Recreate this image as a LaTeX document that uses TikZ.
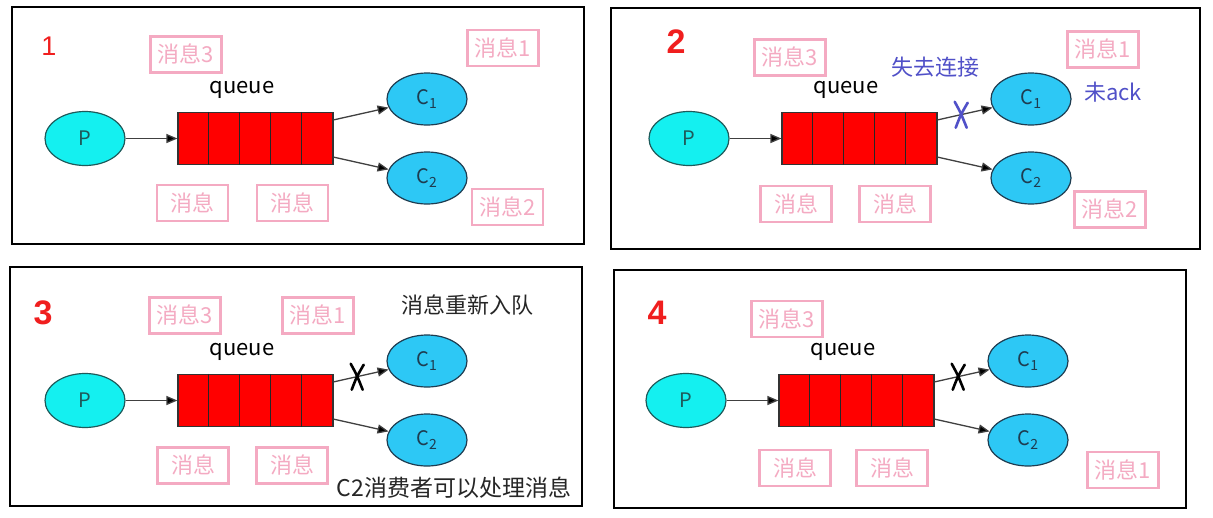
\documentclass[tikz,border=0pt]{standalone}
\usepackage{fontspec}
\setmainfont{Noto Sans CJK SC}
\newfontfamily\numfont{Liberation Sans}
\usetikzlibrary{shapes.geometric,arrows.meta,calc}
\definecolor{pinkc}{RGB}{244,170,194}
\definecolor{pfill}{RGB}{20,240,240}
\definecolor{pborder}{RGB}{30,90,90}
\definecolor{cfill}{RGB}{45,200,245}
\definecolor{cborder}{RGB}{30,60,80}
\definecolor{qred}{RGB}{255,0,0}
\definecolor{bluet}{RGB}{80,80,200}
\definecolor{numred}{RGB}{240,30,30}
\tikzset{
 frame/.style={draw=black, line width=2.8pt},
 pnode/.style={ellipse, draw=pborder, fill=pfill, line width=1.2pt, minimum width=80pt, minimum height=54pt, inner sep=0pt, font=\fontsize{20}{20}\selectfont, text=pborder},
 cnode/.style={ellipse, draw=cborder, fill=cfill, line width=1.2pt, minimum width=80pt, minimum height=52pt, inner sep=0pt, font=\fontsize{20}{20}\selectfont, text=cborder},
 qbox/.style={rectangle, draw=black!80, fill=qred, line width=1.2pt, minimum width=155pt, minimum height=52pt, inner sep=0pt},
 cellline/.style={draw=black!85, line width=1.2pt},
 arr/.style={draw=black!75, line width=1.3pt, -{Triangle[length=11pt,width=9pt,fill=black]}},
 qlabel/.style={font=\fontsize{22}{22}\selectfont, text=black},
 pinkbox/.style={draw=pinkc, line width=2.5pt, text=pinkc, minimum width=71pt, minimum height=36pt, inner sep=0pt, font=\fontsize{22}{22}\selectfont},
 numlabel/.style={text=numred, font=\numfont\bfseries\fontsize{34}{34}\selectfont},
 note/.style={font=\fontsize{22}{22}\selectfont},
 xmark/.style={line width=2.6pt, line cap=round},
}
\newcommand\qpanel[3]{%
 \begin{scope}[shift={(#2,#3)}]
  \node[pnode] (#1P) at (85,138.5) {P};
  \node[qbox] (#1Q) at (255.5,138.5) {};
  \foreach \i in {1,...,4}
   \draw[cellline] ($(#1Q.north west)+(31*\i,0)$) -- ($(#1Q.south west)+(31*\i,0)$);
  \node[cnode] (#1C1) at (427,99) {C\textsubscript{1}};
  \node[cnode] (#1C2) at (427,178) {C\textsubscript{2}};
  \node[qlabel] (#1ql) at (242,90) {queue};
  \coordinate (#1a) at ($(#1Q.north east)+(0,8)$);
  \coordinate (#1b) at ($(#1Q.south east)+(0,-8)$);
  \draw[arr] (#1P) -- (#1Q);
  \draw[arr] (#1a) -- coordinate[pos=0.42] (#1X) (#1C1);
  \draw[arr] (#1b) -- (#1C2);
 \end{scope}}
\newcommand\xcross[2]{%
 \draw[xmark,#2] ($(#1)+(-6,-13)$) .. controls ($(#1)+(0,-2)$) .. ($(#1)+(6,13)$);
 \draw[xmark,#2] ($(#1)+(7,-12)$) .. controls ($(#1)+(0,0)$) .. ($(#1)+(-5,13)$);}
\begin{document}
\begin{tikzpicture}[x=1pt,y=-1pt]
\useasboundingbox[fill=white] (0,0) rectangle (1213,517);
% frames
\draw[frame] (12,7) rectangle (584,244);
\draw[frame] (611,8) rectangle (1200,249);
\draw[frame] (10,267) rectangle (582,506);
\draw[frame] (614,270) rectangle (1186,508);
% panel 1
\qpanel{a}{0}{0}
\node[numlabel, font=\numfont\fontsize{27}{27}\selectfont] (n1) at (49,46) {1};
\node[pinkbox] (a3) at (186,54.5) {消息3};
\node[pinkbox] (a1) at (503,48) {消息1};
\node[pinkbox] (am1) at (192.5,203) {消息};
\node[pinkbox] (am2) at (292.5,203) {消息};
\node[pinkbox] (a2) at (507.5,207) {消息2};
% panel 2
\qpanel{b}{604}{0}
\node[numlabel] (n2) at (676,42) {2};
\node[pinkbox] (b3) at (790,57.5) {消息3};
\node[pinkbox] (b1) at (1103,49.5) {消息1};
\node[pinkbox] (bm1) at (796,204) {消息};
\node[pinkbox] (bm2) at (895,204) {消息};
\node[pinkbox] (b2) at (1110,209.5) {消息2};
\node[note, text=bluet] (lost) at (935,67) {失去连接};
\node[note, text=bluet] (noack) at (1113,92) {未ack};
\xcross{bX}{bluet}
% panel 3
\qpanel{c}{0}{262}
\node[numlabel] (n3) at (43,313) {3};
\node[pinkbox] (c3) at (185,315.5) {消息3};
\node[pinkbox] (c1) at (318,315.5) {消息1};
\node[pinkbox] (cm1) at (193,465.5) {消息};
\node[pinkbox] (cm2) at (292,465.5) {消息};
\node[note, text=black!85] (requeue) at (467,305) {消息重新入队};
\node[note, text=black!85, font=\fontsize{23}{23}\selectfont] (c2ok) at (454,488) {C2消费者可以处理消息};
\xcross{cX}{black}
% panel 4
\qpanel{d}{601}{262}
\node[numlabel] (n4) at (657,313) {4};
\node[pinkbox] (d3) at (787,319) {消息3};
\node[pinkbox] (dm1) at (795,468) {消息};
\node[pinkbox] (dm2) at (892,468) {消息};
\node[pinkbox] (d1) at (1123,470) {消息1};
\xcross{dX}{black}
\end{tikzpicture}
\end{document}
